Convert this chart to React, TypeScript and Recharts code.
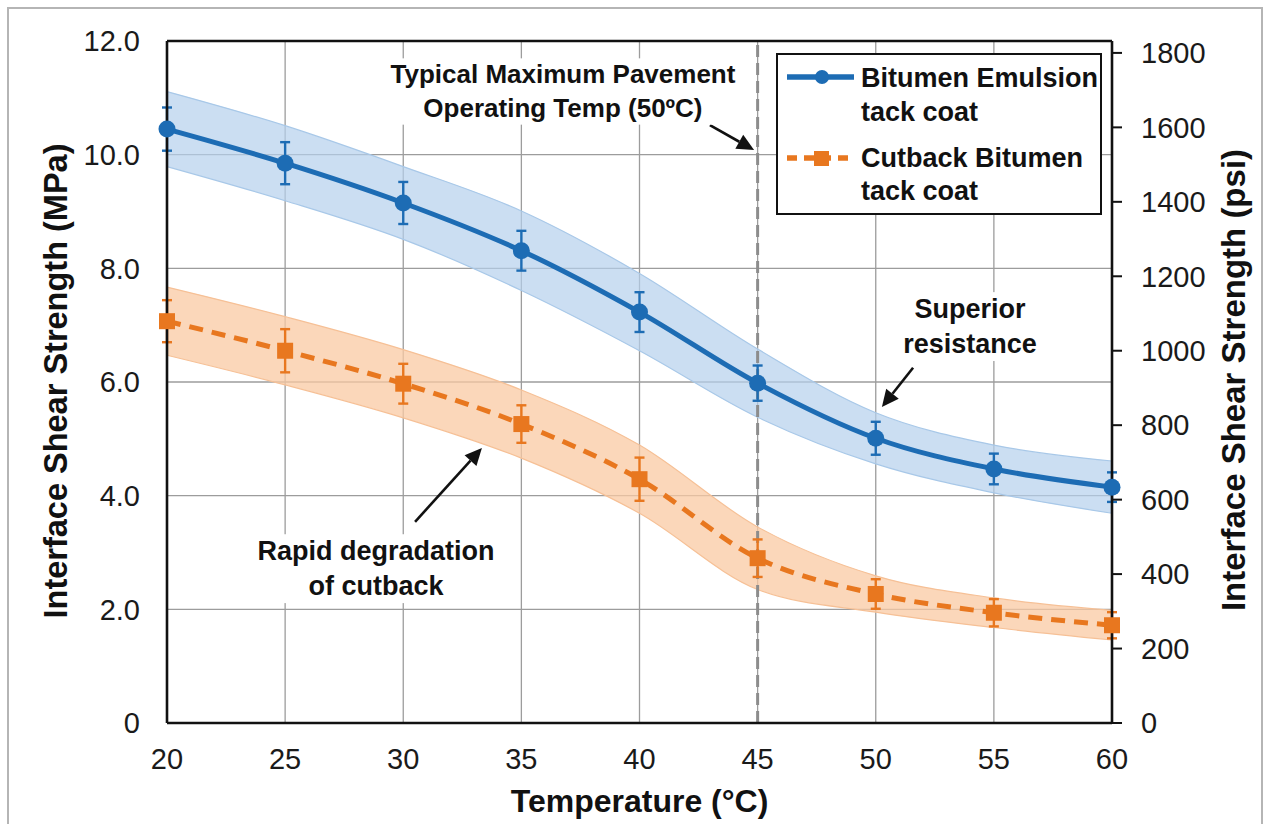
import React from 'react';
import {
  ComposedChart,
  Line,
  Area,
  XAxis,
  YAxis,
  CartesianGrid,
  ErrorBar,
  ReferenceLine,
  ReferenceDot,
  Legend,
} from 'recharts';

// ---------------- data ----------------
const temperatures = [20, 25, 30, 35, 40, 45, 50, 55, 60];
const emulsionMPa = [10.45, 9.85, 9.15, 8.31, 7.23, 5.98, 5.01, 4.47, 4.15];
const emulsionErr = [0.38, 0.37, 0.37, 0.35, 0.35, 0.31, 0.29, 0.27, 0.26];
const emulsionBandHalf = [0.66, 0.66, 0.64, 0.7, 0.68, 0.6, 0.45, 0.42, 0.46];
const cutbackMPa = [7.07, 6.55, 5.97, 5.26, 4.29, 2.9, 2.27, 1.94, 1.72];
const cutbackErr = [0.37, 0.38, 0.35, 0.33, 0.38, 0.33, 0.26, 0.24, 0.23];
const cutbackBandHalf = [0.6, 0.6, 0.6, 0.6, 0.6, 0.55, 0.32, 0.26, 0.26];

const xTicks = [20, 25, 30, 35, 40, 45, 50, 55, 60];
const leftTicks = [0, 2, 4, 6, 8, 10, 12];
const rightTicks = [0, 200, 400, 600, 800, 1000, 1200, 1400, 1600, 1800];

const seriesNames = ['Bitumen Emulsion', 'tack coat', 'Cutback Bitumen', 'tack coat'];
const refTemp = 45;

const data = temperatures.map((t, i) => ({
  t,
  emulsion: emulsionMPa[i],
  emulsionErr: emulsionErr[i],
  emulsionBand: [emulsionMPa[i] - emulsionBandHalf[i], emulsionMPa[i] + emulsionBandHalf[i]],
  cutback: cutbackMPa[i],
  cutbackErr: cutbackErr[i],
  cutbackBand: [cutbackMPa[i] - cutbackBandHalf[i], cutbackMPa[i] + cutbackBandHalf[i]],
}));

// ---------------- style ----------------
const FONT = '"Liberation Sans", Arial, Helvetica, sans-serif';
const BLUE = '#1d6cb4';
const ORANGE = '#e8771f';
const INK = '#111';

const Arrow = (props: any) => {
  const { x1, y1, x2, y2 } = props;
  const ang = Math.atan2(y2 - y1, x2 - x1);
  const L = 17;
  const W = 8;
  const bx = x2 - L * Math.cos(ang);
  const by = y2 - L * Math.sin(ang);
  const p1 = `${bx + W * Math.sin(ang)},${by - W * Math.cos(ang)}`;
  const p2 = `${bx - W * Math.sin(ang)},${by + W * Math.cos(ang)}`;
  return (
    <g>
      <line x1={x1} y1={y1} x2={bx} y2={by} stroke={INK} strokeWidth={2.6} />
      <polygon points={`${x2},${y2} ${p1} ${p2}`} fill={INK} />
    </g>
  );
};

const makeNote = (lines: string[], fontSize: number, boxW: number) => (props: any) => {
  const { cx, cy } = props;
  const lh = fontSize * 1.3;
  return (
    <g>
      <rect x={cx - boxW / 2} y={cy - fontSize * 0.95} width={boxW} height={lh * (lines.length - 1) + fontSize * 1.25} fill="#fff" />
      {lines.map((ln, i) => (
        <text
          key={i}
          x={cx}
          y={cy + i * lh}
          textAnchor="middle"
          fontFamily={FONT}
          fontWeight="bold"
          fontSize={fontSize}
          fill={INK}
        >
          {ln}
        </text>
      ))}
    </g>
  );
};

const SquareDot = (props: any) => {
  const { cx, cy, index } = props;
  if (cx == null || cy == null) return null;
  return <rect key={`sq-${index}`} x={cx - 8} y={cy - 8} width={16} height={16} fill={ORANGE} />;
};

const LegendBox = () => (
  <svg width={328} height={164} style={{ display: 'block' }}>
    <rect x={1} y={1} width={324} height={160} fill="#fff" stroke={INK} strokeWidth={2} />
    <line x1={11} y1={24} x2={78} y2={24} stroke={BLUE} strokeWidth={5.5} />
    <circle cx={46} cy={24} r={7} fill={BLUE} />
    <text x={85} y={34} fontFamily={FONT} fontWeight="bold" fontSize={27} fill={INK}>{seriesNames[0]}</text>
    <text x={85} y={68} fontFamily={FONT} fontWeight="bold" fontSize={27} fill={INK}>{seriesNames[1]}</text>
    <line x1={11} y1={105} x2={78} y2={105} stroke={ORANGE} strokeWidth={5.5} strokeDasharray="10 7" />
    <rect x={38} y={98} width={15} height={15} fill={ORANGE} />
    <text x={85} y={114} fontFamily={FONT} fontWeight="bold" fontSize={27} fill={INK}>{seriesNames[2]}</text>
    <text x={85} y={147} fontFamily={FONT} fontWeight="bold" fontSize={27} fill={INK}>{seriesNames[3]}</text>
  </svg>
);

const XLabel = (props: any) => {
  const vb = props.viewBox || {};
  return (
    <text x={vb.x + vb.width / 2} y={vb.y + 89} textAnchor="middle" fontFamily={FONT} fontWeight="bold" fontSize={32} fill={INK}>
      Temperature (°C)
    </text>
  );
};

const LeftLabel = (props: any) => {
  const vb = props.viewBox || {};
  const cx = 56;
  const cy = vb.y + vb.height / 2 - 1;
  return (
    <text x={cx} y={cy} transform={`rotate(-90 ${cx} ${cy})`} textAnchor="middle" dominantBaseline="central" fontFamily={FONT} fontWeight="bold" fontSize={32.5} fill={INK}>
      Interface Shear Strength (MPa)
    </text>
  );
};

const RightLabel = (props: any) => {
  const vb = props.viewBox || {};
  const cx = 1233;
  const cy = vb.y + vb.height / 2 - 2;
  return (
    <text x={cx} y={cy} transform={`rotate(-90 ${cx} ${cy})`} textAnchor="middle" dominantBaseline="central" fontFamily={FONT} fontWeight="bold" fontSize={33} fill={INK}>
      Interface Shear Strength (psi)
    </text>
  );
};

export default function App() {
  return (
    <div style={{ position: 'absolute', left: 0, top: 0, width: 1269, height: 824, background: '#fff', overflow: 'hidden' }}>
      <div
        style={{
          position: 'absolute',
          left: 7,
          top: 7,
          width: 1256,
          height: 840,
          border: '2px solid #b5b5b5',
          boxSizing: 'border-box',
          pointerEvents: 'none',
        }}
      />
      <ComposedChart width={1269} height={824} data={data} margin={{ top: 41, right: 57, bottom: 41, left: 67 }}>
        <CartesianGrid stroke="#9c9c9c" strokeWidth={1.3} yAxisId="left" />
        <XAxis
          dataKey="t"
          type="number"
          domain={[20, 60]}
          ticks={xTicks}
          height={60}
          tickLine={false}
          tickSize={8}
          tickMargin={17}
          axisLine={{ stroke: INK, strokeWidth: 2.6 }}
          tick={{ fontSize: 29, fill: '#1a1a1a', fontFamily: FONT }}
          label={<XLabel />}
        />
        <YAxis
          yAxisId="left"
          type="number"
          domain={[0, 12]}
          ticks={leftTicks}
          width={100}
          tickLine={false}
          tickSize={8}
          tickMargin={19}
          axisLine={{ stroke: INK, strokeWidth: 2.6 }}
          tickFormatter={(v: number) => (v === 0 ? '0' : v.toFixed(1))}
          tick={{ fontSize: 29, fill: '#1a1a1a', fontFamily: FONT }}
          label={<LeftLabel />}
        />
        <YAxis
          yAxisId="right"
          orientation="right"
          type="number"
          domain={[0, 1832]}
          allowDataOverflow
          ticks={rightTicks}
          width={100}
          tickSize={10}
          tickMargin={19}
          tickLine={{ stroke: INK, strokeWidth: 2 }}
          axisLine={{ stroke: INK, strokeWidth: 2.6 }}
          tick={{ fontSize: 29, fill: '#1a1a1a', fontFamily: FONT }}
          label={<RightLabel />}
        />
        <ReferenceLine yAxisId="left" y={12} stroke={INK} strokeWidth={2.6} />
        <Area
          yAxisId="left"
          type="monotone"
          dataKey="cutbackBand"
          fill="#f9caa3"
          fillOpacity={0.75}
          stroke="#f6c096"
          strokeWidth={1.2}
          isAnimationActive={false}
          legendType="none"
        />
        <Area
          yAxisId="left"
          type="monotone"
          dataKey="emulsionBand"
          fill="#b5d0ec"
          fillOpacity={0.7}
          stroke="#a8c8e8"
          strokeWidth={1.2}
          isAnimationActive={false}
          legendType="none"
        />
        <ReferenceLine yAxisId="left" x={refTemp} stroke="#8c8c8c" strokeWidth={3} strokeDasharray="12 6" />
        <Line
          yAxisId="left"
          type="monotone"
          dataKey="cutback"
          stroke={ORANGE}
          strokeWidth={5}
          strokeDasharray="14 9"
          dot={<SquareDot />}
          activeDot={false}
          isAnimationActive={false}
        >
          <ErrorBar dataKey="cutbackErr" direction="y" width={5} stroke={ORANGE} strokeWidth={2.4} />
        </Line>
        <Line
          yAxisId="left"
          type="monotone"
          dataKey="emulsion"
          stroke={BLUE}
          strokeWidth={5}
          dot={{ r: 8.5, fill: BLUE, stroke: BLUE, strokeWidth: 0 }}
          activeDot={false}
          isAnimationActive={false}
        >
          <ErrorBar dataKey="emulsionErr" direction="y" width={5} stroke={BLUE} strokeWidth={2.4} />
        </Line>

        <ReferenceDot yAxisId="left" x={36.76} y={11.26} r={0} shape={makeNote(['Typical Maximum Pavement', 'Operating Temp (50ºC)'], 26, 360)} />
        <ReferenceLine yAxisId="left" segment={[{ x: 42.98, y: 10.52 }, { x: 44.85, y: 10.08 }]} shape={<Arrow />} />

        <ReferenceDot yAxisId="left" x={53.99} y={7.13} r={0} shape={makeNote(['Superior', 'resistance'], 27, 150)} />
        <ReferenceLine yAxisId="left" segment={[{ x: 51.58, y: 6.25 }, { x: 50.26, y: 5.56 }]} shape={<Arrow />} />

        <ReferenceDot yAxisId="left" x={28.85} y={2.87} r={0} shape={makeNote(['Rapid degradation', 'of cutback'], 27, 260)} />
        <ReferenceLine yAxisId="left" segment={[{ x: 30.5, y: 3.54 }, { x: 33.33, y: 4.84 }]} shape={<Arrow />} />

        <Legend
          layout="horizontal"
          verticalAlign="middle"
          align="center"
          content={() => <LegendBox />}
          wrapperStyle={{ position: 'absolute', left: 776, top: 53, width: 328, height: 164 }}
        />
      </ComposedChart>
    </div>
  );
}
